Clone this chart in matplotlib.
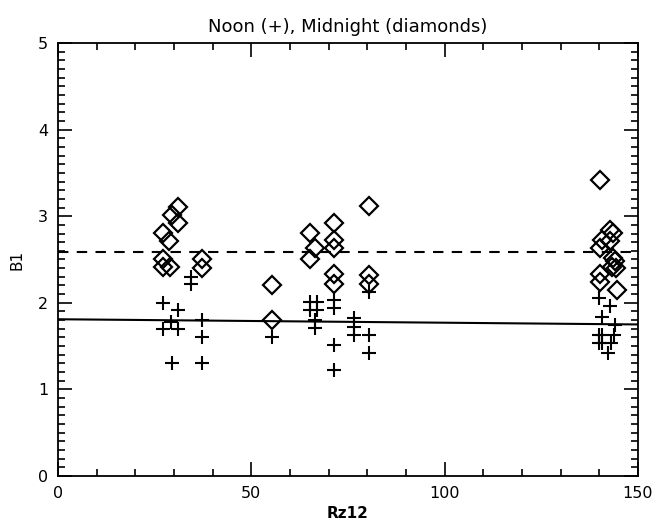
import numpy as np
import matplotlib
matplotlib.use("Agg")
import matplotlib.pyplot as plt
from matplotlib.ticker import MultipleLocator

# noon values (plus signs)
noon_rz = [27.1, 27.1, 29.2, 31.1, 31.1, 29.4, 34.3, 34.3, 37.2, 37.2, 37.2,
           55.3, 65.3, 66.9, 65.3, 66.9, 66.5, 66.5,
           71.4, 71.4, 71.4, 71.4, 76.5, 76.5, 76.5, 80.4, 80.4, 80.4,
           140.0, 142.7, 140.6, 144.0, 140.0, 140.8, 143.9, 140.0, 140.8, 142.9, 142.3]
noon_b1 = [2.00, 1.70, 1.78, 1.92, 1.70, 1.31, 2.30, 2.22, 1.80, 1.61, 1.31,
           1.61, 2.01, 2.01, 1.92, 1.92, 1.80, 1.71,
           2.03, 1.94, 1.51, 1.22, 1.82, 1.72, 1.63, 2.13, 1.63, 1.42,
           2.05, 1.96, 1.84, 1.74, 1.63, 1.63, 1.63, 1.53, 1.53, 1.53, 1.42]

# midnight values (diamonds)
mid_rz = [27.1, 28.8, 29.4, 31.1, 31.1, 27.1, 27.1, 29.0, 37.2, 37.2,
          55.3, 55.3, 65.3, 66.5, 65.3, 71.4, 71.4, 71.4, 71.4, 71.4, 80.4, 80.4, 80.4,
          140.3, 142.7, 143.6, 140.6, 142.7, 140.2, 143.6, 144.0, 143.2, 144.2, 140.2, 140.2, 144.5]
mid_b1 = [2.81, 2.71, 3.01, 3.11, 2.92, 2.51, 2.41, 2.41, 2.51, 2.40,
          2.21, 1.80, 2.81, 2.63, 2.50, 2.92, 2.72, 2.63, 2.33, 2.22, 3.12, 2.32, 2.22,
          3.42, 2.84, 2.81, 2.72, 2.71, 2.63, 2.52, 2.48, 2.41, 2.40, 2.33, 2.24, 2.15]

# fitted lines
noon_fit = ([0, 150], [1.81, 1.75])
mid_fit = ([0, 150], [2.59, 2.59])

fig = plt.figure(figsize=(6.54, 5.27), dpi=100)
ax = fig.add_axes([0.0887, 0.0968, 0.8868, 0.8216])

ax.plot(noon_rz, noon_b1, '+', color='k', ms=10.5, mew=1.5)
ax.plot(mid_rz, mid_b1, 'D', mfc='none', mec='k', ms=9.5, mew=1.6)
ax.plot(*noon_fit, '-', color='k', lw=1.5)
ax.plot(*mid_fit, '--', color='k', lw=1.5, dashes=(5, 4))

ax.set_xlim(0, 150)
ax.set_ylim(0, 5)
ax.xaxis.set_major_locator(MultipleLocator(50))
ax.xaxis.set_minor_locator(MultipleLocator(10))
ax.yaxis.set_major_locator(MultipleLocator(1))
ax.yaxis.set_minor_locator(MultipleLocator(0.1))
ax.tick_params(which='both', direction='in', top=True, right=True, width=1.2,
               labelsize=11.5)
ax.tick_params(which='major', length=10, pad=7)
ax.tick_params(which='minor', length=5)
for s in ax.spines.values():
    s.set_linewidth(1.3)

ax.set_title('Noon (+), Midnight (diamonds)', fontsize=13, pad=8)
ax.set_xlabel('Rz12', fontsize=11, fontweight='bold', labelpad=4)
ax.set_ylabel('B1', fontsize=11, labelpad=10)

fig.savefig('out.png', dpi=100)
